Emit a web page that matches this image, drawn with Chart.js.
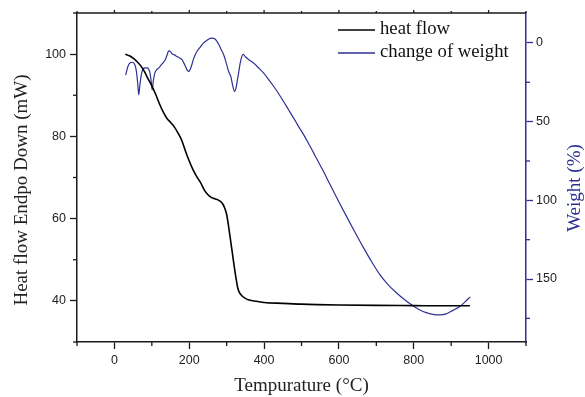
<!DOCTYPE html>
<html>
<head>
<meta charset="utf-8">
<script src="https://cdn.jsdelivr.net/npm/chart.js@4"></script>
<style>
  html, body { margin: 0; padding: 0; background: #fff; }
  canvas { display: block; }
</style>
</head>
<body>
<canvas id="tgaChart" width="585" height="397"></canvas>
<script>
// heat flow (left axis)
const heatTemp = [29, 40, 50, 60, 70, 80, 90, 100, 110, 120, 130, 140, 150, 160, 170, 180, 190, 200, 210, 220,
    230, 240, 250, 260, 270, 280, 290, 295, 300, 305, 310, 315, 320, 325, 330, 335, 340, 350, 360, 380,
    400, 450, 500, 600, 700, 800, 900, 950];
const heatFlow = [100, 99.6, 99, 98.2, 97.2, 95.8, 94, 92.3, 90.3, 88, 86, 84.4, 83.4, 82.3, 80.8, 79, 76.4, 74, 71.9, 70.2,
    68.8, 67, 65.8, 65.1, 64.8, 64.4, 63.5, 62.5, 61, 58.2, 55, 51.8, 48.5, 45.5, 43, 41.9, 41.3, 40.6, 40.2, 39.9,
    39.6, 39.4, 39.2, 39.0, 38.9, 38.85, 38.8, 38.8];

// change of weight (right axis, reversed)
const weightTemp = [30, 36, 42, 48, 54, 58, 62, 65, 68, 72, 77, 82, 87, 91, 95, 98, 101, 104, 108, 113,
    118, 125, 132, 136, 141, 145, 150, 154, 160, 167, 174, 181, 186, 190, 195, 199, 203, 207, 211, 216,
    222, 230, 238, 248, 256, 261, 268, 274, 280, 286, 292, 298, 305, 311, 316, 321, 325, 329, 332, 336,
    340, 344, 350, 360, 372, 385, 399, 412, 426, 439, 452, 465, 479, 492, 506, 520, 532, 555, 577, 600,
    621, 644, 666, 688, 710, 733, 755, 775, 795, 815, 835, 855, 870, 885, 900, 912, 924, 937, 951];
const weightChange = [20.5, 15, 12.6, 12.3, 13.5, 17, 25, 33, 27, 20, 16.5, 15.8, 15.8, 16.5, 19, 24, 29.8, 24, 19.2, 17,
    16, 14, 12, 10.7, 7.5, 5, 5.5, 6.9, 7.6, 8.6, 9.5, 10.7, 13, 15, 17.5, 18.1, 16.5, 13.9, 10.5, 7.5,
    5, 2.5, 0.1, -1.8, -2.9, -3.1, -2.6, -1, 1.5, 4.5, 7.5, 12, 18, 21.3, 27, 30.8, 28.5, 23, 19, 13,
    9, 7.3, 8.8, 10.8, 12.8, 15.8, 19.2, 23.2, 27.7, 32.3, 37.2, 42.3, 47.8, 53, 58.4, 64.4, 69.7, 80, 90.3, 101,
    110.5, 120.7, 130.2, 139.2, 147.4, 154, 159, 163, 166.5, 169.5, 171.5, 172.6, 172.8, 172.3, 170.5, 169, 167.3, 164.5, 161.3];

const tempTicks = [0, 200, 400, 600, 800, 1000];
const tempMinor = [-100, 100, 300, 500, 700, 900, 1100];
const heatTicks = [40, 60, 80, 100];
const heatMinor = [30, 50, 70, 90, 110];
const weightTicks = [0, 50, 100, 150];
const weightMinor = [25, 75, 125, 175];

const ink = '#1a1a1a';
const blue = '#2e3192';
const serif = "'Liberation Serif', 'Times New Roman', serif";

const toPoints = (xs, ys) => xs.map((x, i) => ({ x: x, y: ys[i] }));
const fixTicks = list => axis => { axis.ticks = list.map(v => ({ value: v })); };
const plainLabel = v => String(v);

function strokeLine(ctx, x1, y1, x2, y2) {
    ctx.beginPath();
    ctx.moveTo(x1, y1);
    ctx.lineTo(x2, y2);
    ctx.stroke();
}

// minor ticks, top frame line, legend and axis titles
const decorations = {
    id: 'decorations',
    afterDraw(chart) {
        const { ctx, chartArea: a, scales } = chart;
        ctx.save();
        ctx.lineWidth = 1.3;

        ctx.strokeStyle = ink;
        strokeLine(ctx, a.left, a.top, a.right, a.top);
        tempMinor.forEach(v => {
            const px = scales.x.getPixelForValue(v);
            strokeLine(ctx, px, a.bottom, px, a.bottom + 4);
            strokeLine(ctx, px, a.top, px, a.top - 2);
        });
        tempTicks.forEach(v => {
            const px = scales.x.getPixelForValue(v);
            strokeLine(ctx, px, a.top, px, a.top - 3);
        });
        heatMinor.forEach(v => {
            const py = scales.y.getPixelForValue(v);
            strokeLine(ctx, a.left, py, a.left - 4, py);
        });
        ctx.strokeStyle = blue;
        weightMinor.forEach(v => {
            const py = scales.y2.getPixelForValue(v);
            strokeLine(ctx, a.right, py, a.right + 4, py);
        });

        // legend
        ctx.font = '18.7px ' + serif;
        ctx.textBaseline = 'middle';
        ctx.textAlign = 'left';
        chart.data.datasets.forEach((ds, i) => {
            const y = 30 + i * 23;
            ctx.strokeStyle = ds.borderColor;
            ctx.lineWidth = 1.3;
            strokeLine(ctx, 338, y, 375, y);
            ctx.fillStyle = '#111';
            ctx.fillText(ds.label, 380, y - 1);
        });

        // axis titles
        ctx.font = '19px ' + serif;
        ctx.textAlign = 'center';
        ctx.fillStyle = '#222';
        ctx.fillText('Tempurature (°C)', (a.left + a.right) / 2, 386);

        ctx.save();
        ctx.translate(22, 190);
        ctx.rotate(-Math.PI / 2);
        ctx.fillText('Heat flow Endpo Down (mW)', 0, 0);
        ctx.restore();

        ctx.save();
        ctx.translate(575, 188);
        ctx.rotate(-Math.PI / 2);
        ctx.fillStyle = blue;
        ctx.fillText('Weight (%)', 0, 0);
        ctx.restore();

        ctx.restore();
    }
};

Chart.defaults.font.family = "'Liberation Sans', Arial, sans-serif";
Chart.defaults.font.size = 12.5;
Chart.defaults.color = '#222';

new Chart(document.getElementById('tgaChart').getContext('2d'), {
    type: 'scatter',
    data: {
        datasets: [{
            label: 'heat flow',
            data: toPoints(heatTemp, heatFlow),
            yAxisID: 'y',
            showLine: true,
            borderColor: '#000',
            borderWidth: 1.6,
            pointRadius: 0,
            cubicInterpolationMode: 'monotone'
        }, {
            label: 'change of weight',
            data: toPoints(weightTemp, weightChange),
            yAxisID: 'y2',
            showLine: true,
            borderColor: blue,
            borderWidth: 1.2,
            pointRadius: 0,
            cubicInterpolationMode: 'monotone'
        }]
    },
    options: {
        responsive: false,
        animation: false,
        devicePixelRatio: 1,
        layout: { padding: { top: 13, left: 0, right: 0, bottom: 0 } },
        plugins: { legend: { display: false }, tooltip: { enabled: false } },
        scales: {
            x: {
                type: 'linear', min: -100, max: 1100,
                afterBuildTicks: fixTicks(tempTicks),
                afterFit: s => { s.height = 55; },
                grid: { drawOnChartArea: false, tickLength: 7, tickColor: ink, tickWidth: 1.3 },
                border: { color: ink, width: 1.5 },
                ticks: { padding: 4, maxRotation: 0, callback: plainLabel }
            },
            y: {
                type: 'linear', position: 'left', min: 30, max: 110,
                afterBuildTicks: fixTicks(heatTicks),
                afterFit: s => { s.width = 77; },
                grid: { drawOnChartArea: false, tickLength: 7, tickColor: ink, tickWidth: 1.3 },
                border: { color: ink, width: 1.5 },
                ticks: { padding: 4, callback: plainLabel }
            },
            y2: {
                type: 'linear', position: 'right', min: -19, max: 190, reverse: true,
                afterBuildTicks: fixTicks(weightTicks),
                afterFit: s => { s.width = 59; },
                grid: { drawOnChartArea: false, tickLength: 7, tickColor: blue, tickWidth: 1.3 },
                border: { color: blue, width: 1.5 },
                ticks: { padding: 3, callback: plainLabel }
            }
        }
    },
    plugins: [decorations]
});
</script>
</body>
</html>
